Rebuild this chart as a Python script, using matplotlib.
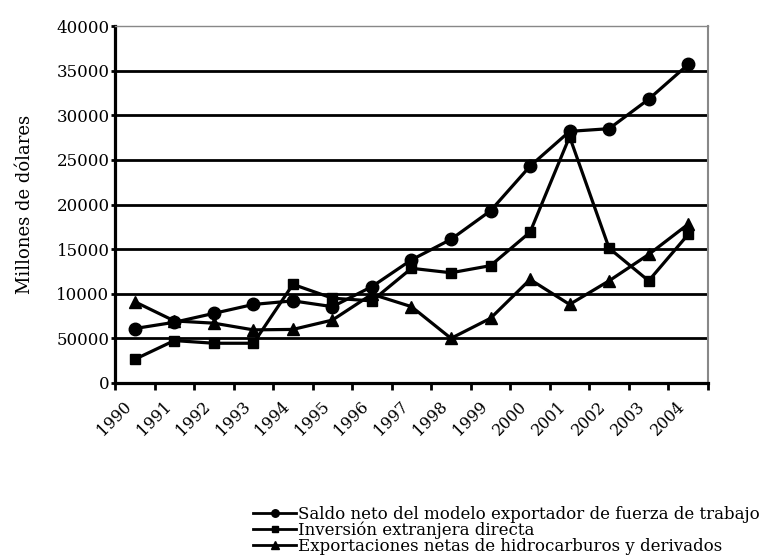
import numpy as np
import matplotlib.pyplot as plt
from matplotlib.ticker import FixedLocator

# data
years = ['1990', '1991', '1992', '1993', '1994', '1995', '1996', '1997',
         '1998', '1999', '2000', '2001', '2002', '2003', '2004']
saldo_neto = [6100, 6800, 7800, 8800, 9200, 8550, 10800, 13800,
              16100, 19300, 24300, 28200, 28500, 31800, 35700]
inversion_ied = [2650, 4750, 4450, 4450, 11050, 9500, 9200, 12850,
                 12350, 13150, 16900, 27600, 15100, 11450, 16650]
hidrocarburos = [9100, 6950, 6700, 5950, 6000, 7050, 9950, 8550,
                 5000, 7250, 11600, 8800, 11450, 14400, 17800]
series_labels = ['Saldo neto del modelo exportador de fuerza de trabajo',
                 'Inversión extranjera directa',
                 'Exportaciones netas de hidrocarburos y derivados']
y_ticks = [0, 5000, 10000, 15000, 20000, 25000, 30000, 35000, 40000]
y_tick_labels = ['0', '50000', '10000', '15000', '20000', '25000',
                 '30000', '35000', '40000']

plt.rcParams['font.family'] = 'DejaVu Serif'
plt.rcParams['font.size'] = 11

fig = plt.figure(figsize=(7.67, 5.55), dpi=100)
ax = fig.add_axes([0.150, 0.310, 0.773, 0.643])

x = np.arange(len(years))

# horizontal grid lines
for y in y_ticks[1:-1]:
    ax.axhline(y, color='black', linewidth=2.0, zorder=1)

line_kw = dict(color='black', linewidth=2.3, zorder=3)
ax.plot(x, saldo_neto, marker='o', markersize=9, label=series_labels[0], **line_kw)
ax.plot(x, inversion_ied, marker='s', markersize=7.5, label=series_labels[1], **line_kw)
ax.plot(x, hidrocarburos, marker='^', markersize=9, label=series_labels[2], **line_kw)

ax.set_xlim(-0.5, len(years) - 0.5)
ax.set_ylim(0, 40000)

# tick marks at category boundaries, labels at centres
ax.set_xticks(x)
ax.set_xticklabels(years, rotation=45, ha='right')
ax.tick_params(axis='x', which='major', length=0, pad=11, labelsize=11.5)
ax.xaxis.set_minor_locator(FixedLocator(np.arange(-0.5, len(years), 1.0)))
ax.tick_params(axis='x', which='minor', length=5, width=2, color='black')

ax.set_yticks(y_ticks)
ax.set_yticklabels(y_tick_labels)
ax.tick_params(axis='y', length=3, width=2, pad=1, labelsize=12)

ax.spines['left'].set_linewidth(2.3)
ax.spines['bottom'].set_linewidth(2.3)
ax.spines['top'].set_color('#888888')
ax.spines['top'].set_linewidth(1.0)
ax.spines['right'].set_color('#888888')
ax.spines['right'].set_linewidth(1.5)

ax.set_ylabel('Millones de dólares', fontsize=13, labelpad=16)

leg = fig.legend(loc='upper left', bbox_to_anchor=(253 / 767, 1 - 506 / 555),
                 frameon=False, fontsize=12, handlelength=2.6, handletextpad=0.1,
                 labelspacing=-0.08, borderpad=0, borderaxespad=0, markerscale=0.6)
for h in leg.legend_handles:
    h.set_linewidth(2.0)

fig.savefig('out.png', dpi=100)
